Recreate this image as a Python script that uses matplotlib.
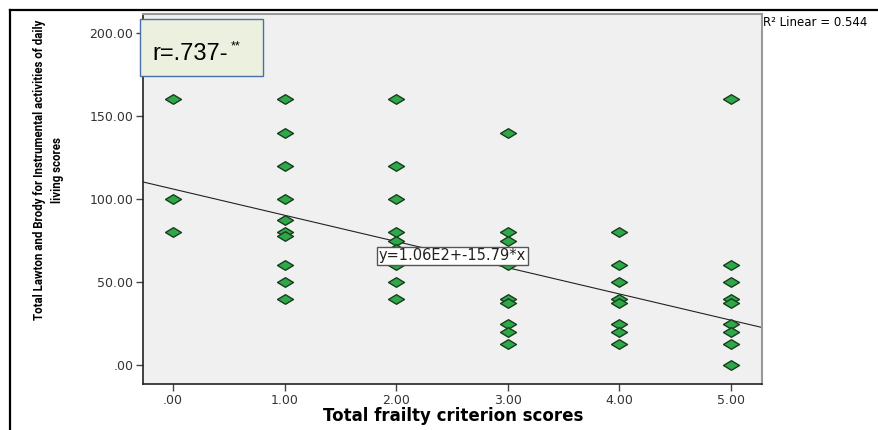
import numpy as np
import matplotlib.pyplot as plt
from matplotlib.lines import Line2D
from matplotlib.patches import Rectangle
from matplotlib.ticker import FuncFormatter

# frailty score (x) and Lawton-Brody IADL score (y), one entry per visible point
frailty = [0, 0, 0,
           1, 1, 1, 1, 1, 1, 1, 1, 1, 1,
           2, 2, 2, 2, 2, 2, 2, 2, 2,
           3, 3, 3, 3, 3, 3, 3, 3, 3,
           4, 4, 4, 4, 4, 4, 4, 4,
           5, 5, 5, 5, 5, 5, 5, 5, 5]
iadl = [160, 100, 80,
        160, 140, 120, 100, 87.5, 80, 77.5, 60, 50, 40,
        160, 120, 100, 80, 75, 70, 60, 50, 40,
        140, 80, 75, 60, 40, 37.5, 25, 20, 12.5,
        80, 60, 50, 40, 37.5, 25, 20, 12.5,
        160, 60, 50, 40, 37.5, 25, 20, 12.5, 0]

intercept = 106
slope = -15.79
r_text = 'r=.737-'
r2_text = 'R\u00b2 Linear = 0.544'
eq_text = 'y=1.06E2+-15.79*x'

x_ticks = [0, 1, 2, 3, 4, 5]
y_ticks = [0, 50, 100, 150, 200]


def fmt(v, pos):
    s = '%.2f' % v
    if s.startswith('0'):
        s = s[1:]
    return s


def main():
    W, H = 879, 430
    fig = plt.figure(figsize=(W / 100, H / 100), dpi=100)
    ax = fig.add_axes([143 / W, 1 - 384 / H, (762 - 143) / W, (384 - 14) / H])
    ax.set_facecolor('#f0f0f0')

    xlim = (-0.27, 5.28)
    ax.set_xlim(xlim)
    ax.set_ylim(-11.4, 211.4)

    xs = np.array(xlim)
    ax.plot(xs, intercept + slope * xs, color='#222222', lw=0.8, zorder=2)

    diamond = [(-1, 0), (0, 0.6), (1, 0), (0, -0.6), (-1, 0)]
    ax.scatter(frailty, iadl, marker=diamond, s=11.5 ** 2, facecolor='#2fa84a',
               edgecolor='#173d1c', linewidth=1.0, zorder=3)

    ax.text(2.504, 65.7, eq_text, ha='center', va='center', fontsize=10.5,
            color='#222222', zorder=4,
            bbox=dict(boxstyle='square,pad=0.12', facecolor='white',
                      edgecolor='#555555', linewidth=1))

    ax.set_xticks(x_ticks)
    ax.set_yticks(y_ticks)
    ax.xaxis.set_major_formatter(FuncFormatter(fmt))
    ax.yaxis.set_major_formatter(FuncFormatter(fmt))
    ax.tick_params(direction='out', length=5, width=1, colors='#444444',
                   labelsize=9, labelcolor='#333333', pad=2)

    for side in ['left', 'bottom']:
        ax.spines[side].set_color('#222222')
        ax.spines[side].set_linewidth(1.2)
    for side in ['top', 'right']:
        ax.spines[side].set_color('#999999')
        ax.spines[side].set_linewidth(1.5)

    # r annotation box
    fig.patches.append(Rectangle((140 / W, 1 - 76 / H), 123 / W, 57 / H,
                                 transform=fig.transFigure, facecolor='#ebf1de',
                                 edgecolor='#4a6ea8', linewidth=1, zorder=5))
    fig.text(152 / W, 1 - 60 / H, r_text, fontsize=17, family='Liberation Sans',
             va='baseline', ha='left', zorder=6)
    fig.text(231 / W, 1 - 40 / H, '**', fontsize=9, family='Liberation Sans',
             va='top', ha='left', zorder=6)

    fig.text(763 / W, 1 - 22 / H, r2_text, fontsize=8.5, va='center', ha='left')

    fig.text(49 / W, 1 - 170 / H,
             'Total Lawton and Brody for Instrumental activities of daily\nliving scores',
             rotation=90, ha='center', va='center', fontsize=8.3, fontweight='bold',
             family=['Roboto', 'DejaVu Sans'], linespacing=1.5)
    fig.text(453 / W, 1 - 416 / H, 'Total frailty criterion scores', ha='center',
             va='center', fontsize=12, fontweight='bold')

    # outer frame
    fig.add_artist(Line2D([10 / W, 10 / W], [0, 1 - 9.5 / H], transform=fig.transFigure,
                          color='black', lw=1.6))
    fig.add_artist(Line2D([10 / W, 1], [1 - 9.5 / H, 1 - 9.5 / H], transform=fig.transFigure,
                          color='black', lw=1.6))

    plt.savefig('out.png', dpi=100)


if __name__ == '__main__':
    main()
